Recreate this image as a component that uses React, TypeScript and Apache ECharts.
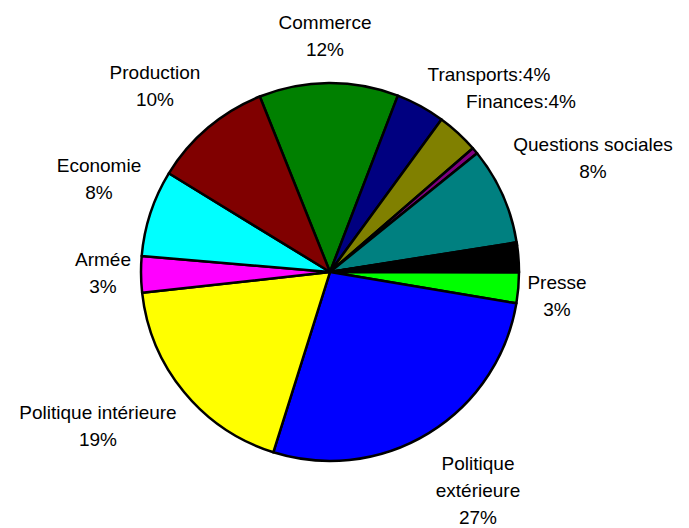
import React, { useEffect, useRef } from "react";
import * as echarts from "echarts";

// Categories in clockwise order starting from Commerce
const categories = [
  "Commerce",
  "Transports",
  "Finances",
  "Divers A",
  "Questions sociales",
  "Divers B",
  "Divers C",
  "Divers D",
  "Divers E",
  "Presse",
  "Politique extérieure",
  "Politique intérieure",
  "Armée",
  "Economie",
  "Production",
];

const values = [11.9, 4.2, 3.6, 0.55, 8.3, 0.12, 0.12, 2.2, 0.12, 2.6, 27.2, 18.4, 3.1, 7.4, 10.2];

// Displayed label texts (empty = no label)
const labelTexts = [
  "Commerce\n12%",
  "Transports:4%",
  "Finances:4%",
  "",
  "Questions sociales\n8%",
  "",
  "",
  "",
  "",
  "Presse\n3%",
  "Politique\nextérieure\n27%",
  "Politique intérieure\n19%",
  "Armée\n3%",
  "Economie\n8%",
  "Production\n10%",
];

const colors = [
  "#008000",
  "#000080",
  "#808000",
  "#800080",
  "#008080",
  "#c0c0c0",
  "#808080",
  "#000000",
  "#800000",
  "#00ff00",
  "#0000ff",
  "#ffff00",
  "#ff00ff",
  "#00ffff",
  "#800000",
];

// label anchor centres (layout, not data)
const labelAnchors: Record<string, [number, number]> = {
  Commerce: [325, 36],
  Transports: [489, 74],
  Finances: [521, 101],
  "Questions sociales": [593, 158],
  Presse: [557, 296],
  "Politique extérieure": [478, 490],
  "Politique intérieure": [98, 426],
  Armée: [103, 273],
  Economie: [99, 179],
  Production: [155, 86],
};

export default function App() {
  const ref = useRef<HTMLDivElement>(null);
  useEffect(() => {
    if (!ref.current) return;
    const chart = echarts.init(ref.current, undefined, { renderer: "svg" });
    const data = categories.map((name, i) => ({
      name,
      value: values[i],
      itemStyle: { color: colors[i] },
      label: { show: labelTexts[i] !== "" },
    }));
    chart.setOption({
      animation: false,
      backgroundColor: "#ffffff",
      series: [
        {
          type: "pie",
          center: [330, 272],
          radius: 189,
          startAngle: 111.8,
          clockwise: true,
          avoidLabelOverlap: false,
          data,
          itemStyle: { borderColor: "#000000", borderWidth: 2.5 },
          emphasis: { disabled: true },
          labelLine: { show: false },
          label: {
            position: "outside",
            color: "#000000",
            fontFamily: "'Liberation Sans', Arial, sans-serif",
            fontSize: 19,
            lineHeight: 27,
            align: "center",
            formatter: (p: any) => labelTexts[p.dataIndex],
          },
          labelLayout: (p: any) => {
            const a = labelAnchors[categories[p.dataIndex]];
            if (!a) return {};
            return { x: a[0], y: a[1], align: "center", verticalAlign: "middle" };
          },
        },
      ],
    });
    return () => chart.dispose();
  }, []);
  return (
    <div
      ref={ref}
      style={{ position: "fixed", left: 0, top: 0, width: 689, height: 528 }}
    />
  );
}
